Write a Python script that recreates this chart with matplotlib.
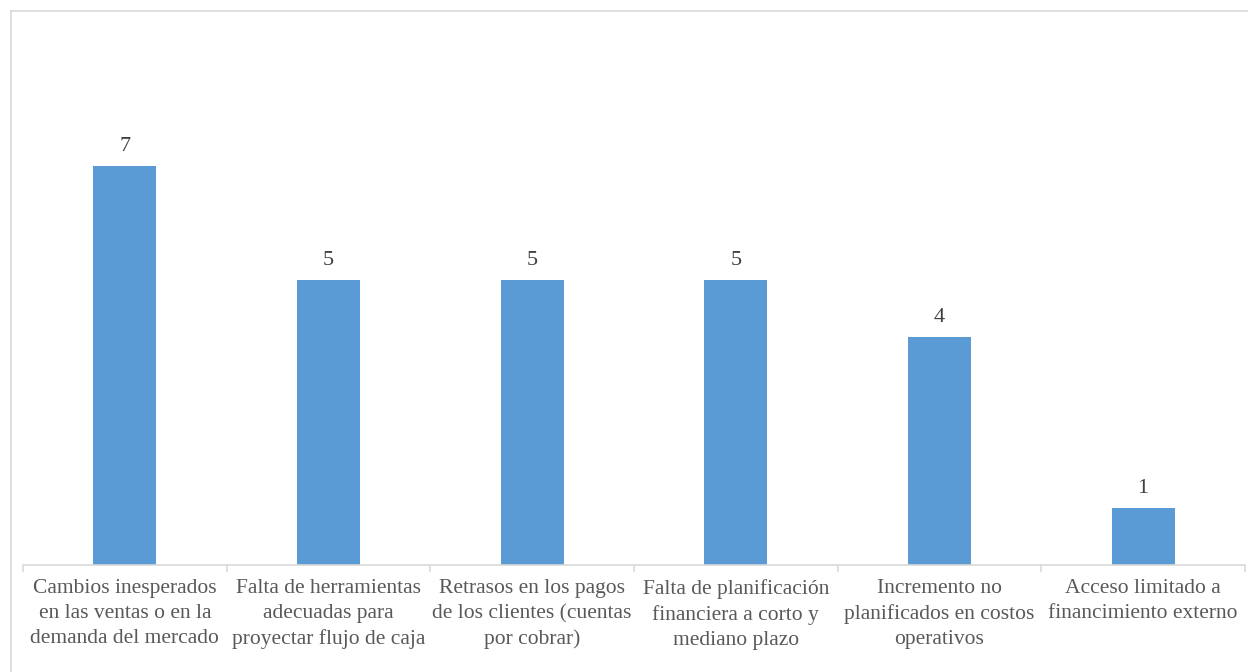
import matplotlib.pyplot as plt
from matplotlib.lines import Line2D
import numpy as np

categorias = ["Cambios inesperados\nen las ventas o en la\ndemanda del mercado",
              "Falta de herramientas\nadecuadas para\nproyectar flujo de caja",
              "Retrasos en los pagos\nde los clientes (cuentas\npor cobrar)",
              "Falta de planificación\nfinanciera a corto y\nmediano plazo",
              "Incremento no\nplanificados en costos\noperativos",
              "Acceso limitado a\nfinancimiento externo"]
valores = [7, 5, 5, 5, 4, 1]

plt.rcParams['font.family'] = ['Liberation Serif', 'DejaVu Serif']

fig = plt.figure(figsize=(12.48, 6.72), dpi=100)
W, H = 1248, 672
ax = fig.add_axes([23 / W, 1 - 565 / H, (1245 - 23) / W, (565 - 109) / H])

x = np.arange(len(valores))
bars = ax.bar(x, valores, width=0.31, color='#5B9BD5', zorder=2)
for xi, v in zip(x, valores):
    ax.text(xi, v + 0.18, str(v), ha='center', va='bottom', fontsize=16, color='#404040')

ax.set_xlim(-0.5, len(valores) - 0.5)
ax.set_ylim(0, 8)
ax.set_yticks([])
ax.set_xticks(x)
ax.set_xticklabels(categorias, fontsize=15.5, color='#595959', linespacing=1.42)
ax.tick_params(axis='x', which='major', length=0, pad=10)
ax.set_xticks(np.arange(-0.5, len(valores)), minor=True)
ax.tick_params(axis='x', which='minor', length=5, color='#d9d9d9', width=1.2)
for s in ['top', 'right', 'left']:
    ax.spines[s].set_visible(False)
ax.spines['bottom'].set_color('#d9d9d9')
ax.spines['bottom'].set_linewidth(1.2)

# borde del gráfico
fig.add_artist(Line2D([11 / W, 1], [1 - 11 / H, 1 - 11 / H], color='#d9d9d9', lw=1.2))
fig.add_artist(Line2D([11 / W, 11 / W], [0, 1 - 11 / H], color='#d9d9d9', lw=1.2))

fig.savefig('out.png', dpi=100)
